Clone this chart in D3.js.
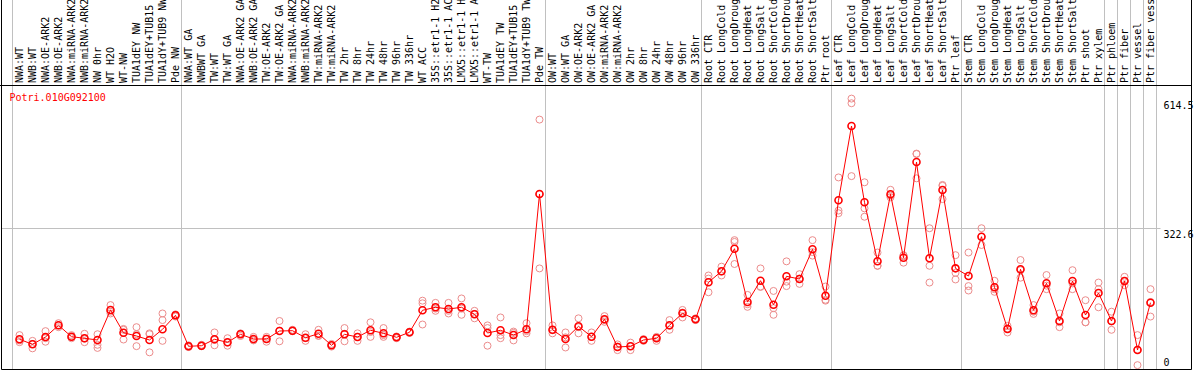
<!DOCTYPE html>
<html>
<head>
<meta charset="utf-8">
<script src="https://cdn.jsdelivr.net/npm/d3@7"></script>
<style>
  body { margin: 0; background: #fff; }
  svg { display: block; }
  text { font-family: "DejaVu Sans Mono", monospace; font-size: 10px; }
</style>
</head>
<body>
<div id="chart"></div>
<script>
// Sample labels
const samples = [
  "NWA:WT", "NWB:WT", "NWA:OE-ARK2", "NWB:OE-ARK2", "NWA:miRNA-ARK2", "NWB:miRNA-ARK2",
  "NW 0hr", "WT H2O", "WT-NW", "TUA1dEY NW", "TUA1dEY+TUB15", "TUA1dY+TUB9 NW", "Pde NW",
  "NWA:WT GA", "NWBWT GA", "TW:WT", "TW:WT GA", "NWA:OE-ARK2 GA", "NWB:OE-ARK2 GA",
  "TW:OE-ARK2", "TW:OE-ARK2 GA", "NWA:miRNA-ARK2", "NWB:miRNA-ARK2", "TW:miRNA-ARK2",
  "TW:miRNA-ARK2", "TW 2hr", "TW 8hr", "TW 24hr", "TW 48hr", "TW 96hr", "TW 336hr",
  "WT ACC", "35S::etr1-1 H2O", "35S::etr1-1 ACC", "LMX5::etr1-1 H2O", "LMX5::etr1-1 ACC",
  "WT-TW", "TUA1dEY TW", "TUA1dEY+TUB15", "TUA1dY+TUB9 TW", "Pde TW",
  "OW:WT", "OW:WT GA", "OW:OE-ARK2", "OW:OE-ARK2 GA", "OW:miRNA-ARK2", "OW:miRNA-ARK2",
  "OW 2hr", "OW 8hr", "OW 24hr", "OW 48hr", "OW 96hr", "OW 336hr",
  "Root CTR", "Root LongCold", "Root LongDrought", "Root LongHeat", "Root LongSalt",
  "Root ShortCold", "Root ShortDrought", "Root ShortHeat", "Root ShortSalt", "Ptr root",
  "Leaf CTR", "Leaf LongCold", "Leaf LongDrought", "Leaf LongHeat", "Leaf LongSalt",
  "Leaf ShortCold", "Leaf ShortDrought", "Leaf ShortHeat", "Leaf ShortSalt", "Ptr leaf",
  "Stem CTR", "Stem LongCold", "Stem LongDrought", "Stem LongHeat", "Stem LongSalt",
  "Stem ShortCold", "Stem ShortDrought", "Stem ShortHeat", "Stem ShortSalt", "Ptr shoot",
  "Ptr xylem", "Ptr phloem", "Ptr fiber", "Ptr vessel", "Ptr fiber vessel"
];

// Mean expression per sample
const means = [
  69.5, 58.2, 74.7, 101.2, 75.4, 71.8, 67.9, 135.8, 84.4, 77.0, 67.9, 92.1, 123.8,
  53.7, 55.0, 69.5, 62.7, 80.8, 70.2, 70.2, 88.3, 89.0, 73.1, 82.2, 55.9, 80.8, 74.7,
  89.9, 83.1, 74.0, 85.4, 135.2, 142.0, 138.1, 142.0, 126.1, 83.8, 89.9, 79.2, 92.1, 398.5,
  91.2, 70.2, 98.9, 75.4, 114.8, 52.1, 53.7, 67.9, 71.8, 101.2, 128.4, 114.8,
  198.6, 223.5, 274.6, 153.9, 202.2, 147.8, 212.1, 206.0, 273.3, 168.2,
  384.2, 552.4, 379.7, 246.1, 397.8, 254.2, 470.9, 252.9, 407.5, 230.2,
  212.8, 301.8, 187.2, 92.8, 228.0, 135.2, 196.3, 110.9, 201.5, 124.5,
  174.3, 110.9, 201.5, 45.3, 152.4
];

// Replicate values per sample
const replicates = [
  [79, 63, 67], [66, 49, 59], [88, 64, 72], [106, 97, 101], [79, 72, 75], [82, 63, 71],
  [81, 57, 50], [147, 132, 128], [91, 93, 69], [97, 54, 81], [81, 40, 83], [128, 113, 66],
  [126, 121, 124],
  [56, 52, 53], [57, 54, 54], [85, 56, 68], [72, 55, 62], [83, 77, 82], [75, 68, 67],
  [75, 64, 71], [111, 65, 89], [91, 88, 88], [81, 66, 72], [91, 77, 78], [59, 56, 53],
  [95, 65, 82], [83, 66, 75], [108, 75, 86], [95, 75, 79], [76, 74, 72], [87, 85, 84],
  [157, 151, 103], [152, 134, 139], [152, 128, 134], [162, 125, 139], [134, 117, 127],
  [101, 55, 95], [119, 72, 79], [87, 67, 84], [106, 83, 88], [567, 230, 398],
  [101, 83, 90], [85, 51, 74], [117, 83, 97], [85, 66, 75], [122, 109, 113], [58, 45, 53],
  [62, 45, 54], [70, 68, 66], [75, 66, 74], [113, 91, 100], [136, 119, 130], [117, 115, 113],
  [214, 176, 207], [234, 214, 223], [294, 240, 290], [170, 143, 149], [230, 189, 188],
  [179, 125, 140], [246, 190, 200], [217, 195, 207], [294, 259, 267], [189, 157, 159],
  [436, 361, 355], [614.5, 604, 439], [425, 366, 347], [266, 236, 236], [408, 395, 391],
  [260, 243, 259], [489, 490, 434], [321, 236, 198], [419, 387, 417], [260, 220, 205],
  [266, 190, 180], [321, 283, 302], [202, 177, 183], [100, 85, 94], [249, 209, 226],
  [147, 127, 132], [215, 183, 191], [128, 97, 108], [226, 183, 196], [158, 108, 108],
  [198, 142, 183], [132, 91, 110], [211, 192, 201], [79, 11, 46], [183, 121, 154]
];

// indices after which a separator line is drawn
const groupEnds = [-1, 12, 40, 52, 62, 72, 83, 84, 85, 86, 87];
const yTicks = [0, 322.6, 614.5];
const geneId = "Potri.010G092100";

const W = 1194, H = 370;
const headerY = 85.5, bottomY = 369.5, rightX = 1191.5;

const svg = d3.select("#chart").append("svg")
  .attr("width", W)
  .attr("height", H);

const x = d3.scaleLinear().domain([0, samples.length - 1]).range([19.5, 19.5 + 13 * (samples.length - 1)]);
const y = d3.scaleLinear().domain([0, d3.max(yTicks)]).range([370, 98.6]);

// vertical separators
svg.append("g").selectAll("line")
  .data(groupEnds)
  .join("line")
  .attr("x1", d => Math.round(x(d) + 5) + 0.5)
  .attr("x2", d => Math.round(x(d) + 5) + 0.5)
  .attr("y1", 0)
  .attr("y2", bottomY)
  .attr("stroke", "#c0c0c0");

// horizontal mid grid line
svg.append("line")
  .attr("x1", 1.5).attr("x2", 1160.5)
  .attr("y1", Math.round(y(yTicks[1])) + 0.5)
  .attr("y2", Math.round(y(yTicks[1])) + 0.5)
  .attr("stroke", "#c0c0c0");

// sample labels
svg.append("g").selectAll("text")
  .data(samples)
  .join("text")
  .attr("transform", (d, i) => `translate(${x(i) + 3},83) rotate(-90)`)
  .attr("fill", "#000")
  .text(d => d);

// y labels
svg.append("g").selectAll("text")
  .data(yTicks)
  .join("text")
  .attr("x", 1163.5)
  .attr("y", d => Math.min(y(d) + 10, 366))
  .attr("fill", "#000")
  .text(d => d);

// gene title
svg.append("text")
  .attr("x", 9.5).attr("y", 101)
  .attr("fill", "#ff0000")
  .text(geneId);

// replicates
const reps = replicates.flatMap((r, i) => r.map(v => ({ i, v })));
svg.append("g").selectAll("circle")
  .data(reps)
  .join("circle")
  .attr("cx", d => x(d.i))
  .attr("cy", d => y(d.v))
  .attr("r", 3.5)
  .attr("fill", "none")
  .attr("stroke", "#ec8c8c")
  .attr("stroke-width", 1);

// mean line
const line = d3.line().x((d, i) => x(i)).y(d => y(d));
svg.append("path")
  .datum(means)
  .attr("d", line)
  .attr("fill", "none")
  .attr("stroke", "#ff0000")
  .attr("stroke-width", 1);

svg.append("g").selectAll("circle")
  .data(means)
  .join("circle")
  .attr("cx", (d, i) => x(i))
  .attr("cy", d => y(d))
  .attr("r", 3.5)
  .attr("fill", "none")
  .attr("stroke", "#ff0000")
  .attr("stroke-width", 1.6);

// frame
svg.append("line")
  .attr("x1", 0).attr("x2", rightX)
  .attr("y1", headerY).attr("y2", headerY)
  .attr("stroke", "#000");
svg.append("path")
  .attr("d", `M1.5,0V${bottomY}H${rightX}V0`)
  .attr("fill", "none")
  .attr("stroke", "#000");
</script>
</body>
</html>
